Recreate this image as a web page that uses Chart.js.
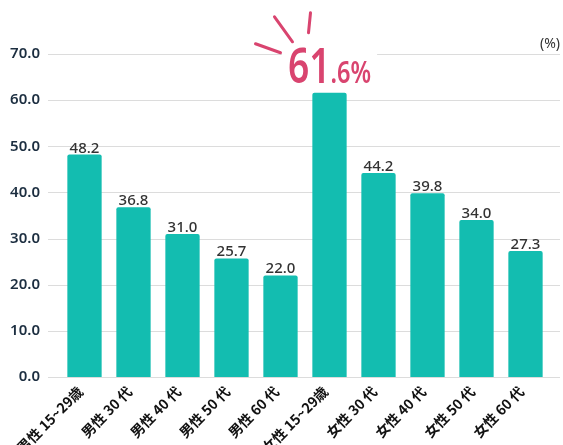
<!DOCTYPE html>
<html>
<head>
<meta charset="utf-8">
<script src="https://cdn.jsdelivr.net/npm/chart.js@4"></script>
<style>
  html, body { margin: 0; padding: 0; background: #fff; }
  #wrap { width: 563px; height: 445px; }
</style>
</head>
<body>
<div id="wrap"><canvas id="chart"></canvas></div>
<script>
const categories = ['男性 15~29歳', '男性 30 代', '男性 40 代', '男性 50 代', '男性 60 代',
                    '女性 15~29歳', '女性 30 代', '女性 40 代', '女性 50 代', '女性 60 代'];
const values = [48.2, 36.8, 31.0, 25.7, 22.0, 61.6, 44.2, 39.8, 34.0, 27.3];
const highlightIndex = 5; // the big pink callout
const unitLabel = '(%)';

const teal = '#13bdb0';
const pink = '#d9446f';

// grid lines a bit wider than the bar area, like the original
const gridPlugin = {
  id: 'wideGrid',
  beforeDatasetsDraw(chart) {
    const { ctx, scales: { y }, chartArea } = chart;
    ctx.save();
    ctx.strokeStyle = '#dcdcdc';
    ctx.lineWidth = 1;
    y.ticks.forEach(t => {
      const py = Math.round(y.getPixelForValue(t.value)) + 0.5;
      ctx.beginPath();
      ctx.moveTo(chartArea.left - 12, py);
      ctx.lineTo(chartArea.right + 10, py);
      ctx.stroke();
    });
    ctx.restore();
  }
};

// value labels, rotated category labels, callout
const labelPlugin = {
  id: 'valueLabels',
  afterDatasetsDraw(chart) {
    const { ctx, chartArea, scales: { x } } = chart;
    const bars = chart.getDatasetMeta(0).data;
    ctx.save();
    ctx.textAlign = 'center';
    ctx.textBaseline = 'alphabetic';
    bars.forEach((bar, i) => {
      if (i === highlightIndex) return;
      ctx.fillStyle = '#333';
      ctx.font = '500 15px "Noto Sans"';
      ctx.fillText(values[i].toFixed(1), bar.x, bar.y - 2);
    });

    // category labels at 45 degrees
    categories.forEach((c, i) => {
      const px = x.getPixelForValue(i);
      ctx.save();
      ctx.translate(px - 4, chartArea.bottom + 12);
      ctx.rotate(-Math.PI / 4);
      ctx.textAlign = 'right';
      ctx.textBaseline = 'middle';
      ctx.fillStyle = '#111';
      ctx.font = 'bold 14px "Noto Sans CJK JP"';
      ctx.fillText(c, 0, 0);
      ctx.restore();
    });

    // big callout
    const hb = bars[highlightIndex];
    const big = String(values[highlightIndex]).split('.');
    const baseY = hb.y - 10;
    const sx = 0.76;
    ctx.font = '600 49px "Noto Sans"';
    const w1 = ctx.measureText(big[0]).width * sx;
    ctx.font = '600 31px "Noto Sans"';
    const w2 = ctx.measureText('.' + big[1] + '%').width * sx;
    const left = hb.x - (w1 + w2) / 2;
    // white patch so grid line does not run through text
    ctx.fillStyle = '#fff';
    ctx.fillRect(left - 6, baseY - 38, w1 + w2 + 12, 40);
    ctx.fillStyle = pink;
    ctx.textAlign = 'left';
    ctx.save();
    ctx.translate(left, baseY);
    ctx.scale(sx, 1);
    ctx.font = '600 49px "Noto Sans"';
    ctx.fillText(big[0], 0, 0);
    ctx.font = '600 31px "Noto Sans"';
    ctx.fillText('.' + big[1] + '%', w1 / sx, 0);
    ctx.restore();

    // burst strokes
    ctx.strokeStyle = pink;
    ctx.lineWidth = 3;
    ctx.lineCap = 'round';
    const strokes = [
      [-74, -39, -49, -30],
      [-55, -66, -37, -41],
      [-19, -70, -21, -50]
    ];
    strokes.forEach(s => {
      ctx.beginPath();
      ctx.moveTo(hb.x + s[0], baseY + s[1]);
      ctx.lineTo(hb.x + s[2], baseY + s[3]);
      ctx.stroke();
    });

    // unit label
    ctx.fillStyle = '#333';
    ctx.font = '14px "Noto Sans"';
    ctx.textAlign = 'right';
    ctx.fillText(unitLabel, chartArea.right + 10, chartArea.top - 6);
    ctx.restore();
  }
};

new Chart(document.getElementById('chart'), {
  type: 'bar',
  data: {
    labels: categories,
    datasets: [{
      data: values,
      backgroundColor: teal,
      borderRadius: { topLeft: 2, topRight: 2 },
      borderSkipped: 'bottom',
      categoryPercentage: 0.7,
      barPercentage: 1.0
    }]
  },
  options: {
    responsive: true,
    maintainAspectRatio: false,
    animation: false,
    layout: { padding: { top: 54, right: 13, left: 10, bottom: 68 } },
    plugins: {
      legend: { display: false },
      tooltip: { enabled: false }
    },
    scales: {
      x: {
        grid: { display: false, drawTicks: false },
        border: { display: false },
        ticks: { display: false }
      },
      y: {
        min: 0,
        max: 70,
        grid: { display: false, drawTicks: false },
        border: { display: false },
        afterFit: axis => { axis.width = 50; },
        ticks: {
          stepSize: 10,
          padding: 20,
          color: '#1c2e40',
          font: { family: '"Noto Sans"', size: 15, weight: '600' },
          callback: v => v.toFixed(1)
        }
      }
    }
  },
  plugins: [gridPlugin, labelPlugin]
});
</script>
</body>
</html>
